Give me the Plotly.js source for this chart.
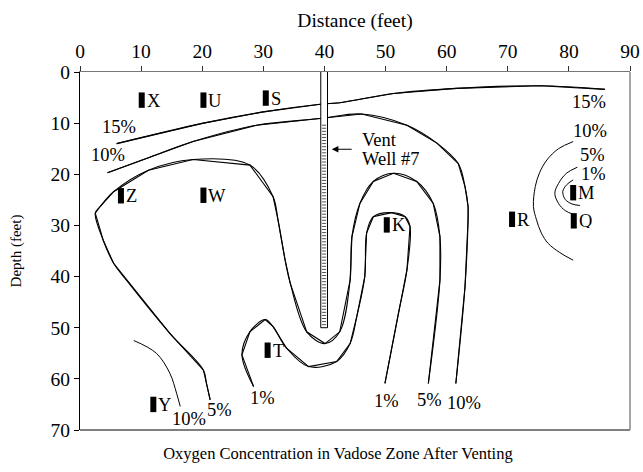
<!DOCTYPE html>
<html><head><meta charset="utf-8">
<script src="https://cdn.plot.ly/plotly-3.0.1.min.js"></script>
<style>html,body{margin:0;padding:0;background:#fff}#chart{width:643px;height:472px}</style>
</head><body><div id="chart"></div>
<script>
// ---- contour lines (x = distance ft, y = depth ft) ----
const c15x = [6.0, 20.2, 30.0, 39.3, 42.5, 51.3, 61.6, 75.3, 85.9];
const c15y = [14.0, 10.0, 7.8, 6.3, 6.0, 4.2, 3.2, 2.7, 3.4];

const c10x = [4.5, 11.5, 18.5, 28.9, 39.3, 46.1, 53.5, 58.4, 61.9, 63.0, 63.5, 63.5, 63.0, 61.5];
const c10y = [19.7, 16.6, 13.6, 10.4, 9.1, 8.2, 10.4, 13.9, 17.9, 22.4, 26.3, 28.9, 42.0, 60.9];

const c5x = [21.3, 20.7, 20.2, 14.7, 7.6, 5.5, 3.8, 2.5, 3.3, 5.5, 11.2, 18.5, 27.8, 31.6, 32.4, 33.6, 34.4, 37.1, 40.1, 42.5, 44.2, 44.5, 45.8, 48.0, 51.3, 55.1, 57.8, 58.9, 58.9, 57.0];
const c5y = [64.1, 60.9, 58.3, 51.1, 40.7, 37.4, 32.9, 27.6, 26.3, 23.4, 19.2, 17.1, 18.2, 24.4, 28.9, 37.0, 41.3, 50.8, 53.1, 50.8, 40.7, 32.2, 25.7, 21.4, 19.8, 21.4, 25.7, 32.2, 40.7, 60.9];

const c1x = [28.4, 26.5, 27.8, 30.3, 31.6, 33.8, 37.4, 42.0, 44.2, 45.3, 46.6, 46.9, 48.0, 51.0, 53.2, 54.0, 53.5, 52.1, 49.9];
const c1y = [61.5, 55.3, 50.8, 48.4, 49.8, 54.0, 57.6, 56.6, 53.1, 47.8, 40.0, 31.5, 28.3, 27.5, 28.3, 30.2, 38.7, 47.2, 60.9];

// ---- thin arcs ----
const r10x = [80.7, 78.3, 76.4, 75.2, 74.5, 74.2, 74.7, 75.5, 76.6, 78.5, 80.7];
const r10y = [13.6, 15.0, 17.2, 19.7, 22.4, 26.3, 28.9, 31.5, 33.5, 35.3, 36.8];
const r5x = [81.4, 79.6, 78.3, 77.7, 78.3, 79.4, 80.7];
const r5y = [18.6, 19.8, 21.8, 23.7, 25.7, 27.1, 27.8];
const r1x = [80.7, 79.6, 79.0, 79.4, 80.5, 81.8];
const r1y = [21.1, 22.1, 23.4, 24.9, 25.8, 26.1];
const bl10x = [8.8, 12.5, 14.7, 15.8, 16.4];
const bl10y = [52.5, 55.0, 58.9, 62.8, 65.4];

// ---- sampling stations ----
const stnName = ['X', 'U', 'S', 'Z', 'W', 'K', 'R', 'M', 'Q', 'T', 'Y'];
const stnX = [10.1, 20.2, 30.4, 6.7, 20.2, 50.2, 70.7, 80.7, 80.8, 30.7, 12.0];
const stnY = [5.5, 5.5, 5.1, 24.2, 24.1, 29.9, 28.8, 23.6, 29.1, 54.4, 65.0];

// ---- contour labels ----
const lblText = ['15%', '10%', '15%', '10%', '5%', '1%', '10%', '5%', '1%', '1%', '5%', '10%'];
const lblX = [6.3, 4.6, 83.3, 83.5, 83.9, 84.0, 62.9, 57.2, 50.2, 29.8, 22.9, 17.9];
const lblY = [10.7, 16.2, 5.8, 11.5, 16.2, 19.8, 64.6, 64.1, 64.3, 63.6, 66.0, 67.8];

// ---- vent well ----
const wellCenter = 39.95;
const wellHalfWidth = 0.55;
const wellTop = -0.7;
const wellBottom = 50;
const screenTop = 10.4;
const wellText = ['Vent', 'Well #7'];
const wellTextX = [45.8, 45.8];
const wellTextY = [13.1, 16.9];
const arrowY = 15.1, arrowFromX = 44.7, arrowToX = 41.2;

const xTicks = [0, 10, 20, 30, 40, 50, 60, 70, 80, 90];
const yTicks = [0, 10, 20, 30, 40, 50, 60, 70];

const FONT = 'Liberation Serif, Times New Roman, serif';
const traces = [];
function contour(x, y) {
  traces.push({x: x, y: y, type: 'scatter', mode: 'lines', hoverinfo: 'skip',
    line: {color: '#000', width: 1.1, shape: 'linear'}});
  traces.push({x: x, y: y, type: 'scatter', mode: 'lines', hoverinfo: 'skip',
    line: {color: '#000', width: 1.1, shape: 'spline', smoothing: 1}});
}
contour(c15x, c15y);
contour(c10x, c10y);
contour(c5x, c5y);
contour(c1x, c1y);
[[r10x, r10y], [r5x, r5y], [r1x, r1y], [bl10x, bl10y]].forEach(function (a) {
  traces.push({x: a[0], y: a[1], type: 'scatter', mode: 'lines', hoverinfo: 'skip',
    line: {color: '#000', width: 1, shape: 'spline', smoothing: 1}});
});
traces.push({x: stnX, y: stnY, type: 'scatter', mode: 'markers', hoverinfo: 'skip',
  marker: {symbol: 'line-ns', size: 11, color: '#000', line: {color: '#000', width: 6}}});

const annotations = [];
stnName.forEach(function (n, i) {
  annotations.push({x: stnX[i], y: stnY[i], xref: 'x', yref: 'y', text: n, showarrow: false,
    xanchor: 'left', yanchor: 'middle', xshift: 3, yshift: 0, height: 15, valign: 'middle',
    font: {family: FONT, size: 18.5, color: '#000'}});
});
lblText.forEach(function (t, i) {
  annotations.push({x: lblX[i], y: lblY[i], xref: 'x', yref: 'y', text: t, showarrow: false,
    xanchor: 'center', yanchor: 'middle', height: 15, valign: 'middle',
    font: {family: FONT, size: 18.5, color: '#000'}});
});
wellText.forEach(function (t, i) {
  annotations.push({x: wellTextX[i], y: wellTextY[i], xref: 'x', yref: 'y', text: t, showarrow: false,
    xanchor: 'left', yanchor: 'middle', height: 15, valign: 'middle',
    font: {family: FONT, size: 18.5, color: '#000'}});
});
annotations.push({x: arrowToX, y: arrowY, xref: 'x', yref: 'y', ax: arrowFromX, ay: arrowY,
  axref: 'x', ayref: 'y', text: '', showarrow: true, arrowhead: 2, arrowsize: 1.2, arrowwidth: 1.1, arrowcolor: '#000'});

const shapes = [];
// frame: bottom and right borders
shapes.push({type: 'line', xref: 'paper', yref: 'paper', x0: 0, x1: 1, y0: 0, y1: 0, line: {color: '#000', width: 1.2}});
shapes.push({type: 'line', xref: 'paper', yref: 'paper', x0: 1, x1: 1, y0: 0, y1: 1, line: {color: '#888', width: 1.5}});
// well casing
shapes.push({type: 'rect', xref: 'x', yref: 'y', x0: wellCenter - wellHalfWidth, x1: wellCenter + wellHalfWidth,
  y0: wellTop, y1: wellBottom, fillcolor: '#fff', line: {color: '#000', width: 1}, layer: 'above'});
// screened interval hatching
for (let d = screenTop; d < wellBottom - 0.2; d += 0.6) {
  shapes.push({type: 'line', xref: 'x', yref: 'y', x0: wellCenter - wellHalfWidth * 0.6, x1: wellCenter + wellHalfWidth * 0.6,
    y0: d, y1: d, line: {color: '#222', width: 0.8}, layer: 'above'});
}

const layout = {
  width: 643, height: 472,
  margin: {l: 80, r: 13, t: 72, b: 42, pad: 0},
  paper_bgcolor: '#fff', plot_bgcolor: '#fff',
  showlegend: false,
  font: {family: FONT, color: '#000', size: 19},
  title: {text: 'Oxygen Concentration in Vadose Zone After Venting', font: {family: FONT, size: 16.5, color: '#000'},
    xref: 'paper', x: 0.469, xanchor: 'center', yref: 'container', y: 0.04, yanchor: 'middle'},
  xaxis: {side: 'top', range: [0, 90], tickvals: xTicks, ticktext: xTicks.map(String), ticks: 'outside', ticklen: 5,
    tickcolor: '#333', showline: true, linecolor: '#777', linewidth: 1.2, showgrid: false, zeroline: false,
    tickfont: {family: FONT, size: 19.5, color: '#000'},
    title: {text: 'Distance (feet)', font: {family: FONT, size: 19.5, color: '#000'}, standoff: 8}},
  yaxis: {range: [70, 0], tickvals: yTicks, ticktext: yTicks.map(String), ticks: 'outside', ticklen: 5,
    tickcolor: '#000', showline: true, linecolor: '#000', linewidth: 1.2, showgrid: false, zeroline: false,
    tickfont: {family: FONT, size: 19.5, color: '#000'},
    title: {text: 'Depth (feet)', font: {family: FONT, size: 15, color: '#000'}, standoff: 25}},
  annotations: annotations,
  shapes: shapes
};
Plotly.newPlot('chart', traces, layout, {displayModeBar: false, staticPlot: true});
</script></body></html>
